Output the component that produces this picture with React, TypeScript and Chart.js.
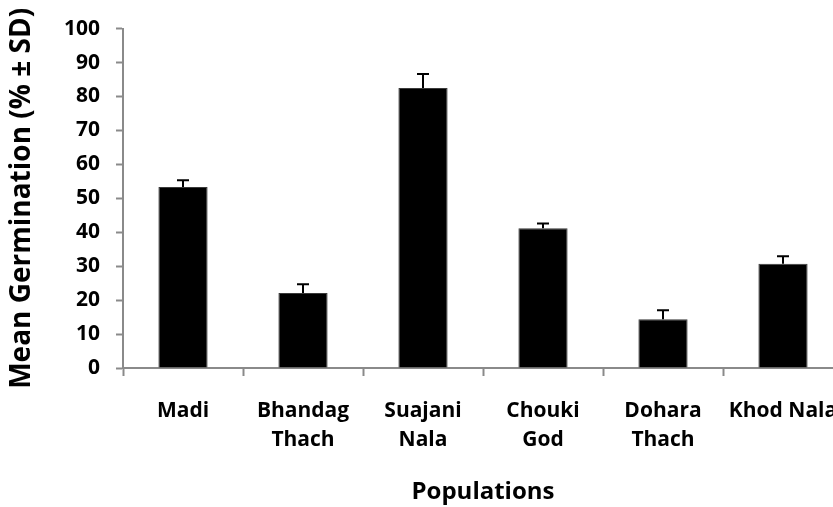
import React, { useEffect, useRef } from "react";
import { Chart, registerables } from "chart.js";

Chart.register(...registerables);

const categories: (string | string[])[] = [
  "Madi",
  ["Bhandag", "Thach"],
  ["Suajani", "Nala"],
  ["Chouki", "God"],
  ["Dohara", "Thach"],
  "Khod Nala",
];
const meanGermination = [53.3, 22.1, 82.5, 41.2, 14.4, 30.7];
const sdGermination = [2.0, 2.6, 4.1, 1.4, 2.6, 2.2];
const yTicks = [0, 10, 20, 30, 40, 50, 60, 70, 80, 90, 100];

const FONT = "'Open Sans', 'DejaVu Sans', sans-serif";
const AXIS_GRAY = "#8a8a8a";

const errorBarPlugin = {
  id: "errorBars",
  afterDatasetsDraw(chart: any) {
    const ctx = chart.ctx;
    const yScale = chart.scales.y;
    const meta = chart.getDatasetMeta(0);
    ctx.save();
    ctx.strokeStyle = "#000";
    ctx.lineWidth = 2;
    meta.data.forEach((el: any, i: number) => {
      const top = yScale.getPixelForValue(meanGermination[i] + sdGermination[i]);
      const x = Math.round(el.x);
      ctx.beginPath();
      ctx.moveTo(x, el.y);
      ctx.lineTo(x, top);
      ctx.moveTo(x - 6, top);
      ctx.lineTo(x + 6, top);
      ctx.stroke();
    });
    ctx.restore();
  },
};

export default function App() {
  const ref = useRef<HTMLCanvasElement | null>(null);
  useEffect(() => {
    if (!ref.current) return;
    const chart = new Chart(ref.current, {
      type: "bar",
      data: {
        labels: categories as any,
        datasets: [
          {
            data: meanGermination,
            backgroundColor: "#000",
            borderColor: "#3a3a3a",
            borderWidth: 1,
            barPercentage: 0.41,
            categoryPercentage: 1,
          },
        ],
      },
      plugins: [errorBarPlugin],
      options: {
        responsive: false,
        animation: false,
        layout: { padding: { top: 19, right: 37, left: 0, bottom: 0 } },
        plugins: {
          legend: { display: false },
          tooltip: { enabled: false },
        },
        scales: {
          x: {
            afterFit: (s: any) => {
              s.height = 139;
            },
            grid: {
              drawOnChartArea: false,
              drawTicks: true,
              tickLength: 8,
              tickWidth: 2,
              color: AXIS_GRAY,
              offset: true,
            },
            border: { display: true, color: AXIS_GRAY, width: 2 },
            ticks: {
              color: "#000",
              font: { family: FONT, size: 21, weight: "bold", lineHeight: 1.38 },
              padding: 21,
              maxRotation: 0,
              minRotation: 0,
              autoSkip: false,
            },
            title: {
              display: true,
              text: "Populations",
              color: "#000",
              font: { family: FONT, size: 24, weight: "bold", lineHeight: 1.2 },
              padding: { top: 0, bottom: 0 },
            },
          },
          y: {
            min: 0,
            max: 100,
            afterFit: (s: any) => {
              s.width = 123;
            },
            afterBuildTicks: (s: any) => {
              s.ticks = yTicks.map((v) => ({ value: v }));
            },
            grid: {
              drawOnChartArea: false,
              drawTicks: true,
              tickLength: 7,
              tickWidth: 2,
              color: AXIS_GRAY,
            },
            border: { display: true, color: AXIS_GRAY, width: 2 },
            ticks: {
              color: "#000",
              font: { family: FONT, size: 21, weight: "bold" },
              padding: 16,
            },
            title: {
              display: true,
              text: "Mean Germination (% ± SD)",
              color: "#000",
              font: { family: FONT, size: 28, weight: "bold", lineHeight: 1.2 },
              padding: { top: 5, bottom: 0 },
            },
          },
        },
      } as any,
    });
    return () => chart.destroy();
  }, []);
  return (
    <div
      style={{
        position: "absolute",
        left: 0,
        top: 0,
        width: 833,
        height: 507,
        overflow: "hidden",
        background: "#fff",
      }}
    >
      <canvas
        ref={ref}
        width={880}
        height={507}
        style={{ display: "block", width: 880, height: 507 }}
      />
    </div>
  );
}
